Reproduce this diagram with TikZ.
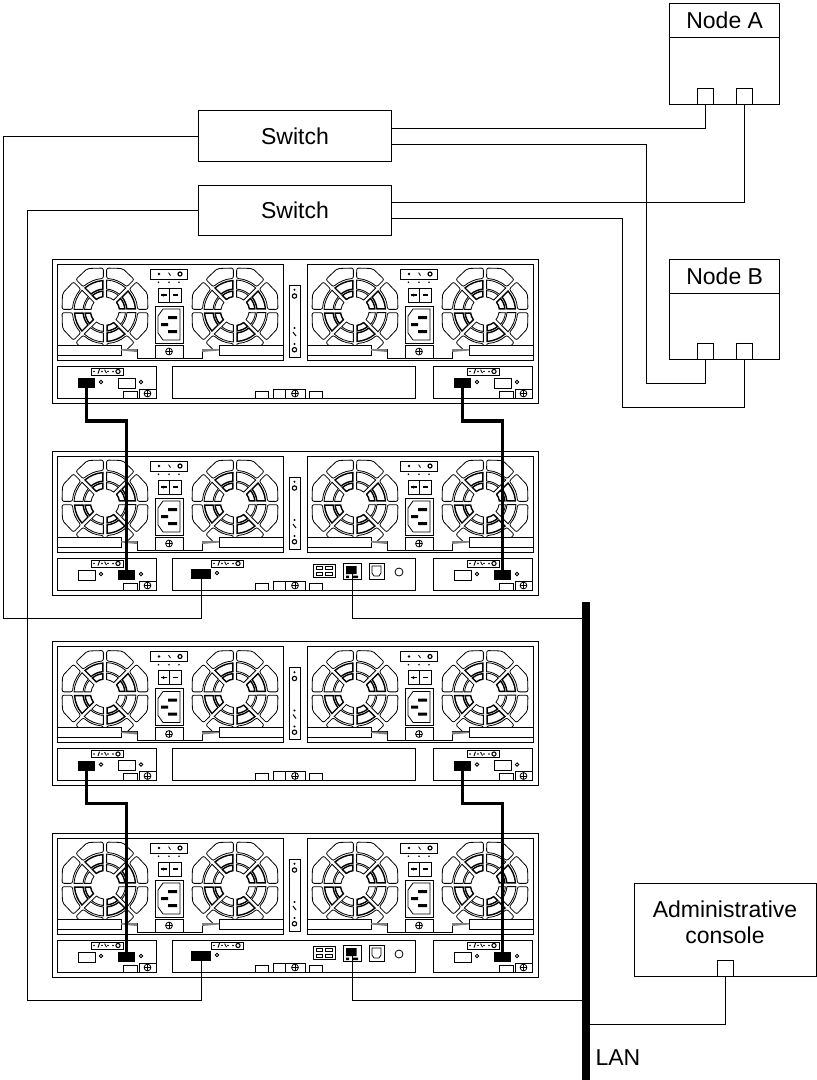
\documentclass[tikz,border=0pt]{standalone}
\usepackage{fontspec}
\setmainfont{Liberation Sans}
\usetikzlibrary{arrows.meta,positioning,calc}
\newcommand{\fanseg}[5]{\draw[hw,#5] (#1+#4:#2) arc[start angle=#1+#4,end angle=#1+45-#4,radius=#2] -- (#1+45-#4*#2/#3:#3) arc[start angle=#1+45-#4*#2/#3,end angle=#1+#4*#2/#3,radius=#3] -- cycle;}
\tikzset{
  hw/.style={line width=.8pt},
  fan/.pic={
    \foreach \a in {0,45,...,315}{
      \draw[hw,rounded corners=2pt] (\a+2.2:43) -- (\a+22.5:46) -- (\a+42.8:43) -- (\a+42.1:32.5)
        arc[start angle=\a+42.1,end angle=\a+2.9,radius=32.5] -- cycle;
    }
    \foreach \a in {0,90,180,270}{
      \fanseg{\a}{31}{22}{3}{}
      \fanseg{\a}{20.5}{14}{4.6}{}
    }
    \foreach \a in {45,135,225,315}{
      \fanseg{\a}{30.5}{22}{4}{line width=1.4pt}
      \fanseg{\a}{20}{14.5}{6}{line width=1.4pt}
    }
  },
  screw/.pic={
    \draw[hw] (0,0) circle[radius=3.4];
    \draw[hw] (-3.4,0) -- (3.4,0) (0,-3.4) -- (0,3.4);
  },
  psu/.pic={
    \draw[hw] (5,5) rectangle (231,101);
    \pic at (53,52) {fan};
    \pic at (183,52) {fan};
    % tray with its notch
    \draw[hw,fill=white] (5,86) -- (69,86) -- (69,90) -- (85,90) -- (85,99) -- (150,99) -- (150,90)
      -- (167,90) -- (167,86) -- (231,86) -- (231,101) -- (5,101) -- cycle;
    \draw[hw] (5,96) -- (69,96) -- (69,86) (167,86) -- (167,96) -- (231,96);
    \fill[gray] (69,90) -- (85,90) -- (85,93) -- (69,91.5) -- cycle;
    \fill[gray] (167,90) -- (150,90) -- (150,93) -- (167,91.5) -- cycle;
    % top strip
    \draw[hw] (98,10) rectangle (135,20);
    \fill (107,15) circle[radius=1.4] (117,13.5) -- (119,16.5) -- (118,16.5) -- (116,13.5) -- cycle;
    \draw[line width=1.2pt] (128,15) circle[radius=2];
    \foreach \x in {106.5,117,127} \fill (\x,23.3) circle[radius=.9];
    % switch
    \draw[hw] (106,29) rectangle (129,43) (117.5,29) -- (117.5,43);
    \fill (111.5,36) circle[radius=1.5];
    \draw[line width=1.1pt] (108.5,36) -- (115,36) (120.5,36) -- (126,36);
    % socket
    \draw[hw] (103,47) rectangle (131,84);
    \draw[hw] (111,50) -- (128,50) -- (128,81) -- (111,81) -- (106,74) -- (106,57) -- cycle;
    \fill (116,57) rectangle (125,60) (109,64) rectangle (116,67) (116,71) rectangle (125,74);
    \draw[hw,fill=white] (103,86) rectangle (131,99);
    \pic at (117,92.5) {screw};
  },
  iostrip/.pic={
    \draw[hw] (0,0) rectangle (32,7);
    \foreach \x in {3,11,17,22} \fill (\x,3.5) circle[radius=.9];
    \fill (6.5,5.5) -- (8,1) -- (9,1) -- (7.5,5.5) -- cycle;
    \fill (14,1.5) -- (16,5) -- (15,5) -- (13,1.5) -- cycle;
    \draw[line width=1.1pt] (27,3.5) circle[radius=2.1];
  },
  iomod/.pic={
    \draw[hw] (5,107) rectangle (104,139);
    \pic at (39,109) {iostrip};
    \draw[hw] (49,123) circle[radius=1.7] (89,123) circle[radius=1.7];
    \draw[hw] (71,132) rectangle (85,139);
    \draw[hw] (87,130) rectangle (104,139);
    \pic at (95.5,134.5) {screw};
  },
  chassis/.pic={
    \draw[hw] (0,0) rectangle (486,144);
    \pic at (0,0) {psu};
    \pic at (250,0) {psu};
    \draw[hw] (237,26) rectangle (248,98);
    \foreach \y in {30.7,69,85} \fill (242.5,\y) circle[radius=1.2];
    \foreach \y in {37,90.7} \draw[line width=1.1pt] (242.5,\y) circle[radius=2.2];
    \draw[line width=1pt] (241,73) -- (244,77);
    \pic at (0,0) {iomod};
    \pic at (376,0) {iomod};
    \draw[hw] (120,107) rectangle (363,139);
    \draw[hw] (203,132) rectangle (216,139) (221,130) rectangle (233,139) (233,130) rectangle (253,139) (257,132) rectangle (270,139);
    \pic at (243,134.5) {screw};
  },
  % shelf with no LAN side
  plainunit/.pic={
    \pic at (0,0) {chassis};
    \node[blackport] (-pl) at (34.5,124) {};
    \node[blackport] (-pr) at (410.5,124) {};
    \draw[hw] (66,119) rectangle (83,129) (442,119) rectangle (459,129);
  },
  % shelf with the LAN side
  lanunit/.pic={
    \pic at (0,0) {chassis};
    \node[blackport] (-pl) at (74.5,124) {};
    \node[blackport] (-pr) at (450.5,124) {};
    \draw[hw] (26,119) rectangle (43,129) (402,119) rectangle (419,129);
    \pic at (159,109) {iostrip};
    \node[blackport,minimum width=20] (-pm) at (149,123) {};
    \draw[hw] (165,122) circle[radius=1.7];
    \draw[hw] (261,113) rectangle (283,126);
    \draw[hw] (264,115.7) rectangle (270,118.3) (273,115.7) rectangle (280,118.3) (264,121.7) rectangle (270,124.3) (273,121.7) rectangle (280,124.3);
    \node[draw,fill=white,line width=.9pt,minimum width=18,minimum height=16,inner sep=0,outer sep=0] (-rj) at (300,120) {};
    \fill (294,115) rectangle (304.5,123) (294,124.5) rectangle (297,127) (301,124.5) rectangle (306,127);
    \draw[hw] (317,112) rectangle (332,128);
    \draw[hw] (320,115) -- (329,115) -- (329,122) -- (327,125) -- (322,125) -- (320,122) -- cycle;
    \draw[hw] (347,121) circle[radius=4];
  }
}
\begin{document}
\begin{tikzpicture}[x=1pt,y=-1pt,
  every node/.style={font=\fontsize{23}{26}\selectfont,outer sep=0,inner sep=0},
  blackport/.style={fill=black,minimum width=17,minimum height=10},
  box/.style={draw,line width=1pt,fill=white},
  switchbox/.style={box,minimum width=192.5,minimum height=50.5},
  hosthead/.style={box,minimum width=109.5,minimum height=34},
  hostbody/.style={box,minimum width=109.5,minimum height=66.5},
  hostport/.style={box,minimum size=16},
  wire/.style={line width=1pt},
  cable/.style={line width=3.5pt}
]
\useasboundingbox (0,0) rectangle (817,1080);
\pic (shelfa) at (52,259) {plainunit};
\pic (shelfb) at (52,451) {lanunit};
\pic (shelfc) at (52,641.5) {plainunit};
\pic (shelfd) at (52,833) {lanunit};

\node[switchbox] (switcha) at (295,136) {Switch};
\node[switchbox] (switchb) at (295,210.3) {Switch};

\node[hosthead] (nodeahead) at (724.7,20.7) {Node A};
\node[hostbody,below=0pt of nodeahead] (nodea) {};
\node[hostport,anchor=south] (nodeaone) at (705.3,104) {};
\node[hostport,anchor=south] (nodeatwo) at (744,104) {};
\node[hosthead] (nodebhead) at (724.7,276) {Node B};
\node[hostbody,below=0pt of nodebhead] (nodeb) {};
\node[hostport,anchor=south] (nodebone) at (705.3,359.3) {};
\node[hostport,anchor=south] (nodebtwo) at (744,359.3) {};

\node[box,minimum width=182,minimum height=92.7,align=center] (console) at (725,930.3) {};
\node[align=center] (consoletext) at (725,922) {Administrative\\console};
\node[hostport,anchor=south] (consoleport) at (725,976.7) {};

\node[fill=black,minimum width=7.5,minimum height=478,anchor=north] (lan) at (586.2,602) {};
\node[anchor=base west] (lanlabel) at (595.5,1065.7) {LAN};

\coordinate (busa) at (3.5,618);
\coordinate (busb) at (27.5,1000.7);
\coordinate (joga) at (646,383.3);
\coordinate (jogb) at (622.3,407.3);
\coordinate (lanc) at (590,1024);

\draw[wire] (switcha.west) -| (busa) -| (shelfb-pm.center);
\draw[wire] (switchb.west) -| (busb) -| (shelfd-pm.center);
\draw[wire] ([yshift=8pt]switcha.east) -| (nodeaone.south);
\draw[wire] ([yshift=-8pt]switcha.east) -| (joga) -| (nodebone.south);
\draw[wire] ([yshift=8pt]switchb.east) -| (nodeatwo.south);
\draw[wire] ([yshift=-8pt]switchb.east) -| (jogb) -| (nodebtwo.south);
\draw[wire] (shelfb-rj.center) |- (lan.west |- busa);
\draw[wire] (shelfd-rj.center) |- (lan.west |- busb);
\draw[wire] (consoleport.south) |- (lanc);

\draw[cable] (shelfa-pl.center) -- ++(0,38) -| (shelfb-pl.center);
\draw[cable] (shelfa-pr.center) -- ++(0,38) -| (shelfb-pr.center);
\draw[cable] (shelfc-pl.center) -- ++(0,38) -| (shelfd-pl.center);
\draw[cable] (shelfc-pr.center) -- ++(0,38) -| (shelfd-pr.center);
\end{tikzpicture}
\end{document}
